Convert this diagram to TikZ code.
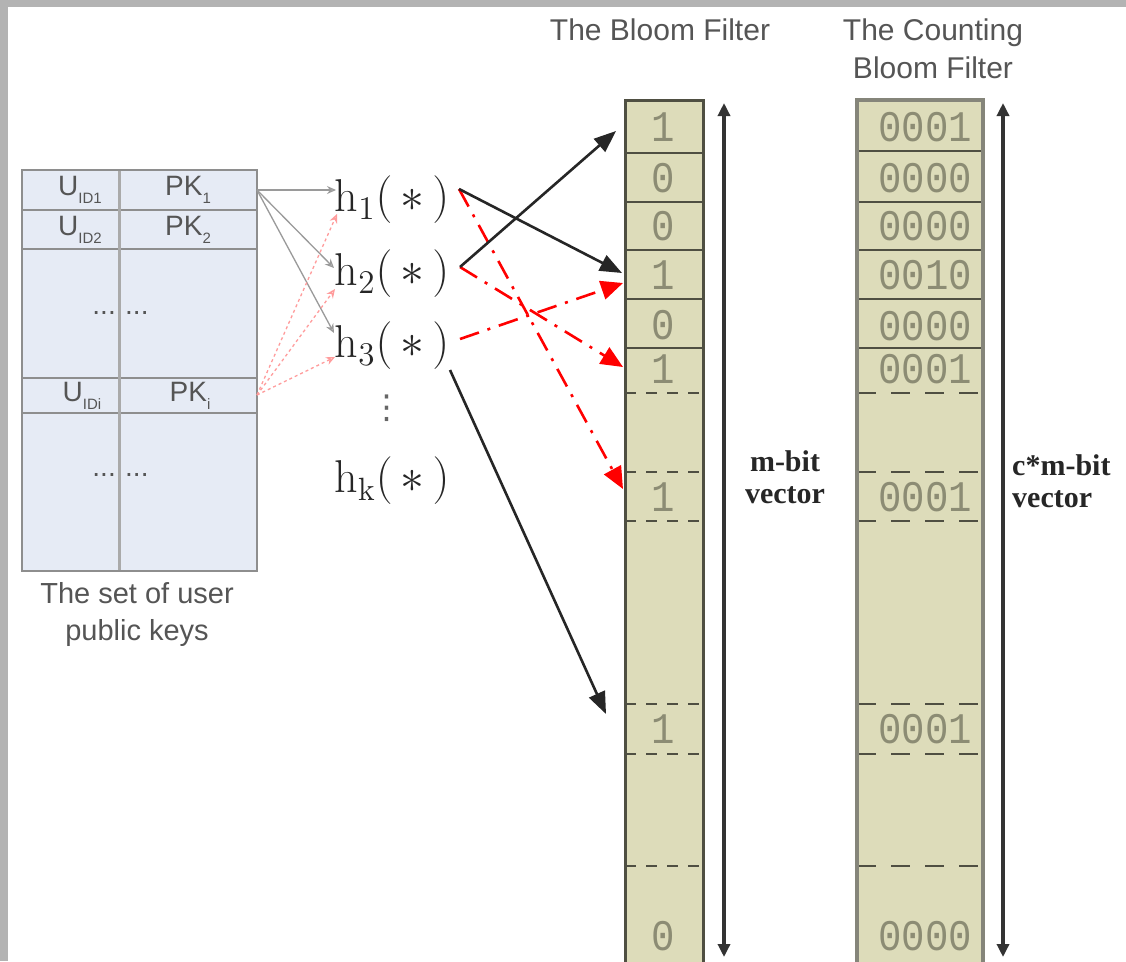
\documentclass[tikz,border=0pt]{standalone}
\usepackage{fontspec}
\newfontfamily\sansf{Liberation Sans}
\newfontfamily\serifb{Liberation Serif}
\newfontfamily\monof{Liberation Mono}
\newfontfamily\symf{DejaVu Sans}
\usetikzlibrary{arrows.meta}

\newcommand\fsz[1]{\fontsize{#1}{#1}\selectfont}
\newcommand\lowsub[1]{\raisebox{-0.55ex}{\fsz{15}#1}}

\definecolor{frame}{HTML}{B3B3B3}
\definecolor{tabfill}{HTML}{E6EBF5}
\definecolor{tabline}{HTML}{8E8E8E}
\definecolor{cellfill}{HTML}{DDDCBA}
\definecolor{cellline}{HTML}{4F4F42}
\definecolor{cbfline}{HTML}{85857A}
\definecolor{digit}{HTML}{8C8C74}
\definecolor{labgray}{HTML}{555555}
\definecolor{pinkline}{HTML}{FF9C9C}
\definecolor{greyline}{HTML}{9A9A9A}

\tikzset{
  tabtext/.style={inner sep=0pt, font=\sansf\fsz{28}, text=labgray},
  title/.style={inner sep=0pt, font=\sansf\fsz{30}, text=labgray, align=center},
  hfun/.style={inner sep=0pt, font=\fsz{20}, scale=2.3, text=black!85},
  bit/.style={inner sep=0pt, font=\monof\fsz{39}, yscale=1.12, text=digit},
  veclab/.style={inner sep=0pt, font=\serifb\bfseries\fontsize{30}{32}\selectfont, text=black!85},
  solidrow/.style={line width=2.5pt},
  dashrow/.style={line width=2.5pt, dash pattern=on 11pt off 10pt},
  greyarrow/.style={greyline, line width=1.3pt, -{Stealth[length=9pt,width=8pt,open]}},
  pinkarrow/.style={pinkline, line width=1.3pt, dash pattern=on 3pt off 3pt, -{Stealth[length=9pt,width=8pt,open]}},
  blkarrow/.style={black!85, line width=2.6pt, -{Triangle[length=22pt,width=17pt]}},
  redarrow/.style={red, line width=2.6pt, dash pattern=on 20pt off 9pt on 3pt off 9pt, -{Triangle[length=22pt,width=19pt]}},
  dimarrow/.style={black!80, line width=3.5pt, {Triangle[length=13pt,width=12pt]}-{Triangle[length=13pt,width=12pt]}}
}

\begin{document}
\begin{tikzpicture}[x=1pt,y=-1pt]
\useasboundingbox (0,0) rectangle (1126,961);
\clip (0,0) rectangle (1126,961);
\fill[frame] (0,0) rectangle (1126,961);
\fill[white] (8,7) rectangle (1126,961);

% ---- table of user public keys ----
\fill[tabfill] (22,170) rectangle (257,571);
\foreach \y in {210,249,378,413}
  \draw[tabline, line width=2pt] (22,\y) -- (257,\y);
\draw[tabline!75, line width=3pt] (119,170) -- (119,571);
\draw[tabline, line width=2.5pt] (22,170) rectangle (257,571);

\node[tabtext] (u1) at (80,190) {U\lowsub{ID1}};
\node[tabtext] (pk1) at (188,190) {PK\lowsub{1}};
\node[tabtext] (u2) at (80,230) {U\lowsub{ID2}};
\node[tabtext] (pk2) at (188,230) {PK\lowsub{2}};
\node[tabtext, anchor=east] (dota) at (116,313) {...};
\node[tabtext, anchor=west] (dotb) at (125,313) {...};
\node[tabtext] (ui) at (82,396) {U\lowsub{IDi}};
\node[tabtext] (pki) at (190,396) {PK\lowsub{i}};
\node[tabtext, anchor=east] (dotc) at (116,475) {...};
\node[tabtext, anchor=west] (dotd) at (125,475) {...};
\node[title, font=\sansf\fontsize{29}{37}\selectfont] (setcap) at (137,614) {The set of user\\public keys};

% ---- hash functions ----
\node[hfun] (h1) at (392,200) {$\mathrm{h}_1(\,\ast\,)$};
\node[hfun] (h2) at (392,274) {$\mathrm{h}_2(\,\ast\,)$};
\node[hfun] (h3) at (392,346) {$\mathrm{h}_3(\,\ast\,)$};
\node[inner sep=0pt, font=\symf\fsz{33}, text=black!60] (hdots) at (387,408) {⋮};
\node[hfun] (hk) at (392,481) {$\mathrm{h}_\mathrm{k}(\,\ast\,)$};

% ---- arrow end points ----
\coordinate (pkout) at (257,190);
\coordinate (piout) at (257,395);
\coordinate (g1) at (336,190);
\coordinate (g2) at (334,268);
\coordinate (g3) at (334,333);
\coordinate (p1) at (337,214);
\coordinate (p2) at (335,289);
\coordinate (p3) at (335,357);
\coordinate (h1r) at (459,189);
\coordinate (h2r) at (460,267);
\coordinate (h3r) at (460,339);
\coordinate (h3d) at (450,370);
\coordinate (t1) at (616,131);
\coordinate (t2) at (622,273);
\coordinate (t3) at (606,714);
\coordinate (r1) at (623,283);
\coordinate (r2) at (623,367);
\coordinate (r3) at (623,489);

% ---- Bloom filter ----
\fill[cellfill] (625,100) rectangle (703,975);
\foreach \y in {153,202,250,299,348}
  \draw[cellline, solidrow] (625,\y) -- (703,\y);
\foreach \y in {393,472,521,704,754,866}
  \draw[cellline, dashrow] (625,\y) -- (703,\y);
\draw[cellline, line width=3pt] (625,975) -- (625,100) -- (703,100) -- (703,975);

\node[bit] (b1) at (663,127) {1};
\node[bit] (b2) at (663,178) {0};
\node[bit] (b3) at (663,226) {0};
\node[bit] (b4) at (663,275) {1};
\node[bit] (b5) at (663,325) {0};
\node[bit] (b6) at (663,369) {1};
\node[bit] (b7) at (663,497) {1};
\node[bit] (b8) at (663,729) {1};
\node[bit] (b9) at (663,936) {0};

% ---- counting Bloom filter ----
\fill[cellfill] (857,100) rectangle (983,975);
\foreach \y in {151,202,250,299,348}
  \draw[cellline, solidrow] (857,\y) -- (983,\y);
\foreach \y in {393,472,521,704,754,866}
  \draw[cellline, line width=2.5pt, dash pattern=on 19pt off 15pt] (857,\y) -- (983,\y);
\draw[cbfline, line width=4pt] (857,975) -- (857,100) -- (983,100) -- (983,975);

\node[bit] (c1) at (925,127) {0001};
\node[bit] (c2) at (925,178) {0000};
\node[bit] (c3) at (925,226) {0000};
\node[bit] (c4) at (925,275) {0010};
\node[bit] (c5) at (925,326) {0000};
\node[bit] (c6) at (925,369) {0001};
\node[bit] (c7) at (925,497) {0001};
\node[bit] (c8) at (925,729) {0001};
\node[bit] (c9) at (925,936) {0000};

% ---- titles and size labels ----
\node[title] (bftitle) at (660,30) {The Bloom Filter};
\node[title, font=\sansf\fontsize{30}{38}\selectfont] (cbftitle) at (933,49) {The Counting\\Bloom Filter};

\coordinate (bftop) at (724,103);
\coordinate (bfbot) at (724,957);
\coordinate (cbftop) at (1003,103);
\coordinate (cbfbot) at (1003,957);
\draw[dimarrow] (bfbot) -- (bftop);
\draw[dimarrow] (cbfbot) -- (cbftop);

\node[veclab, align=center] (mlab) at (785,477) {m-bit\\vector};
\node[veclab, align=left, anchor=west] (cmlab) at (1012,481) {c*m-bit\\vector};

% ---- connectors ----
\draw[greyarrow] (pkout) -- (g1);
\draw[greyarrow] (pkout) -- (g2);
\draw[greyarrow] (pkout) -- (g3);
\draw[pinkarrow] (piout) -- (p1);
\draw[pinkarrow] (piout) -- (p2);
\draw[pinkarrow] (piout) -- (p3);

\draw[redarrow] (h3r) -- (r1);
\draw[redarrow] (h2r) -- (r2);
\draw[redarrow] (h1r) -- (r3);
\draw[blkarrow] (h2r) -- (t1);
\draw[blkarrow] (h1r) -- (t2);
\draw[blkarrow] (h3d) -- (t3);
\end{tikzpicture}
\end{document}
